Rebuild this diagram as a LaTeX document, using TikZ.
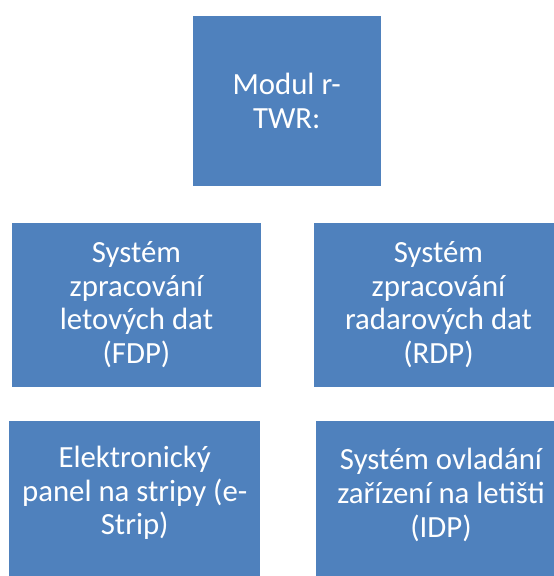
\documentclass[tikz,border=0pt]{standalone}
\usepackage{fontspec}
\setmainfont{Carlito}
\definecolor{boxblue}{RGB}{79,129,189}
\begin{document}
\begin{tikzpicture}[x=0.75pt,y=-0.75pt,
  box/.style={rectangle, fill=boxblue, draw=none, inner sep=0pt},
  txt/.style={text=white, align=center, inner sep=0pt,
    font=\fontsize{23.1pt}{25.2pt}\selectfont}]
  \useasboundingbox (0,0) rectangle (554,576);
  \clip (0,0) rectangle (554,576);
  % top block
  \node[box, minimum width=188*0.75pt, minimum height=170.3*0.75pt] (top) at (286.7,100.9) {};
  \node[txt] (ttop) at (top.center) {Modul r-\\TWR:};
  % second row
  \node[box, minimum width=249*0.75pt, minimum height=164*0.75pt] (fdp) at (136.5,304.7) {};
  \node[txt] (tfdp) at (fdp.center) {Systém\\zpracování\\letových dat\\(FDP)};
  \node[box, minimum width=250*0.75pt, minimum height=164*0.75pt] (rdp) at (438.5,304.7) {};
  \node[txt] (trdp) at (rdp.center) {Systém\\zpracování\\radarových dat\\(RDP)};
  % third row, cut off by the lower edge
  \node[box, minimum width=250.7*0.75pt, minimum height=164*0.75pt] (strip) at (134.7,503) {};
  \node[txt] (tstrip) at ([yshift=7.5pt]strip.center) {Elektronický\\panel na stripy (e-\\Strip)};
  \node[box, minimum width=250*0.75pt, minimum height=164*0.75pt] (idp) at (441,503) {};
  \node[txt] (tidp) at ([yshift=6pt]idp.center) {Systém ovladání\\zařízení na letišti\\(IDP)};
\end{tikzpicture}
\end{document}
